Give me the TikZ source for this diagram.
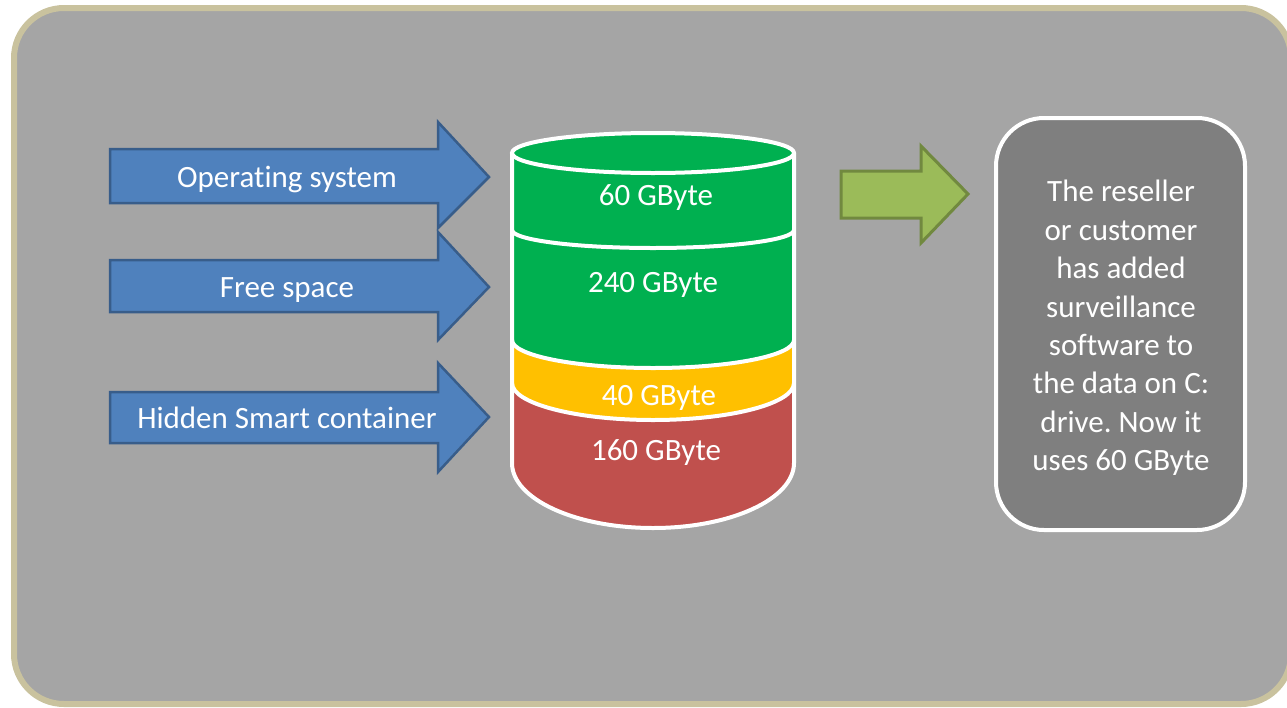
\documentclass[tikz,border=0pt]{standalone}
\usepackage{fontspec}
\setmainfont{Carlito}[Ligatures={NoCommon}]
\frenchspacing
\definecolor{bggray}{HTML}{A5A5A5}
\definecolor{bgborder}{HTML}{C9C29E}
\definecolor{bluefill}{HTML}{4F81BD}
\definecolor{blueline}{HTML}{385D8A}
\definecolor{cylgreen}{HTML}{00B050}
\definecolor{cylyellow}{HTML}{FFC000}
\definecolor{cylred}{HTML}{C0504D}
\definecolor{boxgray}{HTML}{7F7F7F}
\definecolor{arrgreen}{HTML}{9BBB59}
\definecolor{arrgreenline}{HTML}{71893F}
\tikzset{
  bluearrow/.style={fill=bluefill, draw=blueline, line width=2.5pt, line join=miter},
  greenarrow/.style={fill=arrgreen, draw=arrgreenline, line width=3pt, line join=miter},
  lbl/.style={text=white, font=\fontsize{31}{38.4}\selectfont, inner sep=0pt, anchor=base},
  cylline/.style={draw=white, line width=4pt},
}
\begin{document}
\begin{tikzpicture}[x=1pt,y=1pt]
\useasboundingbox (0,0) rectangle (1287,-707);
% background
\draw[fill=bggray, draw=bgborder, line width=6pt, rounded corners=50pt] (14,-8) rectangle (1291,-704);

% blue arrows
\draw[bluearrow] (110,-149) -- (438,-149) -- (438,-122) -- (489,-177) -- (438,-228) -- (438,-203) -- (110,-203) -- cycle;
\draw[bluearrow] (110,-260) -- (438,-260) -- (438,-232) -- (489,-287) -- (438,-340) -- (438,-312) -- (110,-312) -- cycle;
\draw[bluearrow] (110,-392) -- (438,-392) -- (438,-363) -- (489,-417) -- (438,-472) -- (438,-443) -- (110,-443) -- cycle;
\node[lbl] (os) at (287,-187) {Operating system};
\node[lbl] (fs) at (287,-297) {Free space};
\node[lbl] (hs) at (287,-428) {Hidden Smart container};

% cylinder
\fill[cylred] (512,-383) -- (512,-463) arc[start angle=180, end angle=360, x radius=141, y radius=65] -- (794,-383) -- cycle;
\fill[cylyellow] (512,-340) -- (512,-383) arc[start angle=180, end angle=360, x radius=141, y radius=37] -- (794,-340) -- cycle;
\fill[cylgreen] (512,-153) -- (512,-340) arc[start angle=180, end angle=360, x radius=141, y radius=28] -- (794,-153) -- cycle;
\draw[cylline] (512,-230) arc[start angle=180, end angle=360, x radius=141, y radius=18];
\draw[cylline] (512,-340) arc[start angle=180, end angle=360, x radius=141, y radius=28];
\draw[cylline] (512,-383) arc[start angle=180, end angle=360, x radius=141, y radius=37];
\draw[cylline, fill=cylgreen] (653,-153) ellipse[x radius=141, y radius=20];
\draw[cylline] (512,-153) -- (512,-463) arc[start angle=180, end angle=360, x radius=141, y radius=65] -- (794,-153);
\node[lbl] (g60) at (656,-205) {60 GByte};
\node[lbl] (g240) at (653,-292) {240 GByte};
\node[lbl] (g40) at (659,-405) {40 GByte};
\node[lbl] (g160) at (656,-460) {160 GByte};

% green arrow
\draw[greenarrow] (841,-171) -- (921,-171) -- (921,-146) -- (968,-194) -- (921,-243) -- (921,-218) -- (841,-218) -- cycle;

% right box
\draw[fill=boxgray, draw=white, line width=4pt, rounded corners=48pt] (996,-118) rectangle (1245,-530);
\node[lbl, anchor=center, align=center] (note) at (1121,-328) {The reseller\\or customer\\has added\\surveillance\\software to\\the data on C:\\drive. Now it\\uses 60 GByte};
\end{tikzpicture}
\end{document}
